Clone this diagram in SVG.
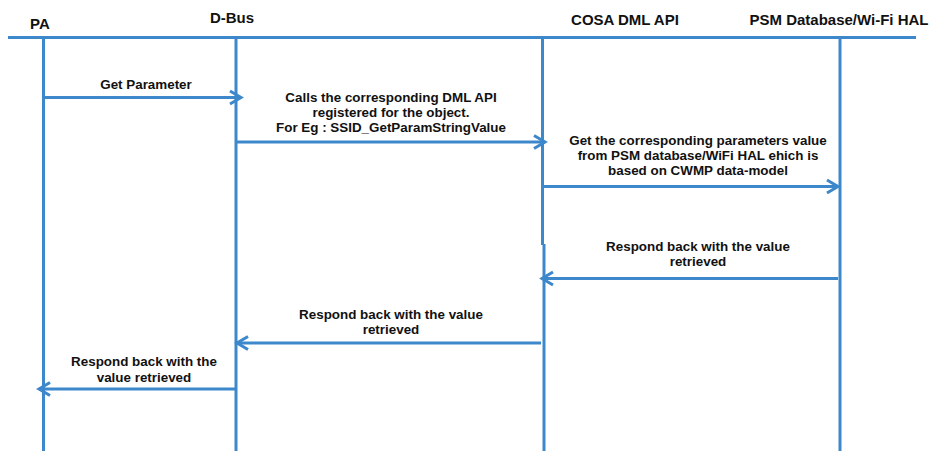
<svg xmlns="http://www.w3.org/2000/svg" width="933" height="451" viewBox="0 0 933 451">
  <style>
    .ln { stroke: #3d87cb; stroke-width: 3; fill: none; }
    .msg { stroke: #3d87cb; stroke-width: 3; fill: none; marker-end: url(#arrow); }
    .hd { font-family: "Liberation Sans", Arial, sans-serif; font-weight: bold; font-size: 15px; fill: #111; }
    .lb { font-family: "Liberation Sans", Arial, sans-serif; font-weight: bold; font-size: 13.4px; fill: #111; text-anchor: middle; }
  </style>
  <defs>
    <marker id="arrow" markerUnits="userSpaceOnUse" markerWidth="20" markerHeight="20" refX="14" refY="10" orient="auto">
      <path d="M3,3.5 L14,10 L3,16.5" stroke="#3d87cb" stroke-width="3" fill="none" stroke-linejoin="miter"/>
    </marker>
  </defs>
  <rect width="933" height="451" fill="#fff"/>

  <!-- top rule -->
  <line class="ln" x1="8" y1="37.5" x2="916" y2="37.5"/>

  <!-- participants -->
  <g id="pa">
    <text class="hd" x="30" y="29">PA</text>
    <line class="ln" x1="43.5" y1="37" x2="43.5" y2="451"/>
  </g>
  <g id="dbus">
    <text class="hd" x="232" y="23" text-anchor="middle">D-Bus</text>
    <line class="ln" x1="236" y1="37" x2="236" y2="451"/>
  </g>
  <g id="cosa">
    <text class="hd" x="625" y="25" text-anchor="middle">COSA DML API</text>
    <line class="ln" x1="542.5" y1="37" x2="542.5" y2="245"/>
    <line class="ln" x1="544" y1="244" x2="544" y2="451"/>
  </g>
  <g id="psm">
    <text class="hd" x="839" y="25" text-anchor="middle">PSM Database/Wi-Fi HAL</text>
    <line class="ln" x1="840" y1="37" x2="840" y2="451"/>
  </g>

  <!-- messages -->
  <g id="connectors">
    <line class="msg" x1="44" y1="97.5" x2="241" y2="97.5"/>
    <line class="msg" x1="236" y1="142" x2="545" y2="142"/>
    <line class="msg" x1="543" y1="186.5" x2="838" y2="186.5"/>
    <line class="msg" x1="838" y1="278.5" x2="542" y2="278.5"/>
    <line class="msg" x1="541" y1="343" x2="237" y2="343"/>
    <line class="msg" x1="236" y1="389" x2="39" y2="389"/>
  </g>

  <!-- message labels -->
  <g id="labels">
    <text class="lb" x="146" y="88.5">Get Parameter</text>

    <text class="lb" x="391" y="101.5">Calls the corresponding DML API</text>
    <text class="lb" x="391" y="116.5">registered for the object.</text>
    <text class="lb" x="391" y="131.5">For Eg : SSID_GetParamStringValue</text>

    <text class="lb" x="698" y="145">Get the corresponding parameters value</text>
    <text class="lb" x="698" y="160">from PSM database/WiFi HAL ehich is</text>
    <text class="lb" x="698" y="175">based on CWMP data-model</text>

    <text class="lb" x="698" y="250.5">Respond back with the value</text>
    <text class="lb" x="698" y="266">retrieved</text>

    <text class="lb" x="391" y="318.5">Respond back with the value</text>
    <text class="lb" x="391" y="334">retrieved</text>

    <text class="lb" x="144" y="366">Respond back with the</text>
    <text class="lb" x="144" y="381.5">value retrieved</text>
  </g>
</svg>
